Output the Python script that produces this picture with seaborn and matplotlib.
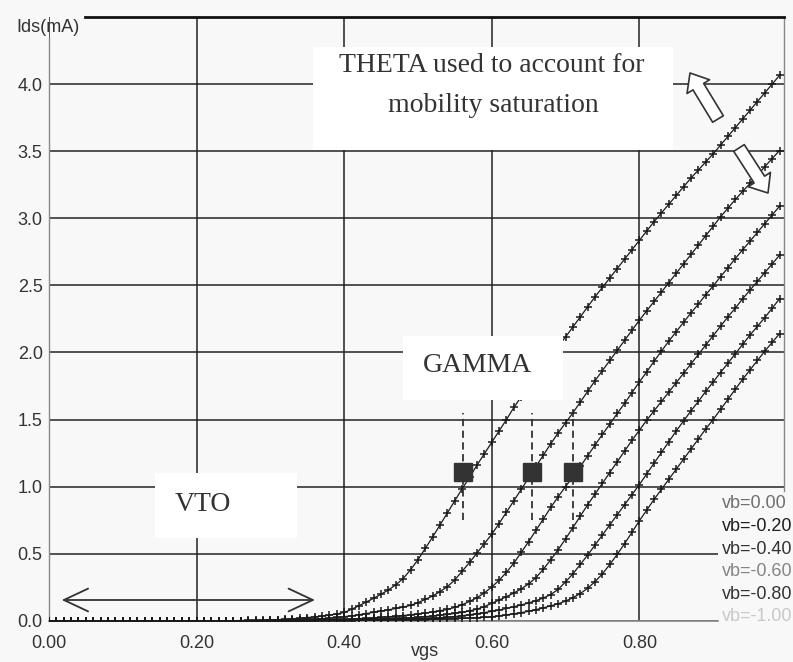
import numpy as np
import pandas as pd
import matplotlib
matplotlib.use("Agg")
import matplotlib.pyplot as plt
from matplotlib.patches import Rectangle
import seaborn as sns

# gate sweep, 10 mV steps; all curves sit at 0 below 0.24 V
vgs = np.round(np.arange(0.0, 1.0, 0.01), 2)
flat_part = [0.0] * 24

vb_labels = ["vb=0.00", "vb=-0.20", "vb=-0.40", "vb=-0.60", "vb=-0.80", "vb=-1.00"]
vb_label_colors = ["#6e6e6e", "#1e1e1e", "#333333", "#858585", "#333333", "#c8c8c8"]

# Ids (mA) from vgs = 0.24 ... 0.99
ids_vb0 = [0.000, 0.001, 0.002, 0.003, 0.004, 0.005, 0.006, 0.008, 0.011, 0.015,
           0.019, 0.024, 0.029, 0.035, 0.042, 0.051, 0.062, 0.085, 0.112, 0.140,
           0.168, 0.198, 0.230, 0.268, 0.315, 0.380, 0.455, 0.540, 0.625, 0.715,
           0.805, 0.895, 0.985, 1.070, 1.160, 1.245, 1.330, 1.415, 1.500, 1.590,
           1.670, 1.745, 1.820, 1.895, 1.970, 2.045, 2.115, 2.190, 2.265, 2.340,
           2.415, 2.485, 2.555, 2.625, 2.695, 2.765, 2.835, 2.905, 2.975, 3.040,
           3.105, 3.170, 3.235, 3.300, 3.360, 3.420, 3.480, 3.545, 3.610, 3.675,
           3.740, 3.805, 3.870, 3.935, 4.000, 4.065]
ids_vb02 = [0.000, 0.000, 0.001, 0.001, 0.002, 0.002, 0.003, 0.004, 0.005, 0.006,
            0.008, 0.010, 0.013, 0.016, 0.020, 0.025, 0.031, 0.037, 0.045, 0.054,
            0.063, 0.072, 0.082, 0.092, 0.102, 0.115, 0.135, 0.160, 0.185, 0.218,
            0.255, 0.305, 0.370, 0.435, 0.505, 0.575, 0.645, 0.725, 0.810, 0.895,
            0.980, 1.065, 1.150, 1.235, 1.320, 1.400, 1.475, 1.550, 1.630, 1.710,
            1.790, 1.865, 1.940, 2.015, 2.090, 2.165, 2.240, 2.310, 2.380, 2.450,
            2.520, 2.590, 2.660, 2.730, 2.800, 2.870, 2.940, 3.010, 3.075, 3.140,
            3.200, 3.260, 3.320, 3.385, 3.445, 3.505]
ids_vb04 = [0.000, 0.000, 0.000, 0.001, 0.001, 0.001, 0.002, 0.002, 0.003, 0.003,
            0.004, 0.005, 0.006, 0.007, 0.009, 0.010, 0.012, 0.014, 0.016, 0.019,
            0.022, 0.026, 0.030, 0.034, 0.039, 0.045, 0.051, 0.058, 0.066, 0.075,
            0.085, 0.100, 0.120, 0.145, 0.172, 0.208, 0.252, 0.302, 0.362, 0.430,
            0.510, 0.590, 0.675, 0.760, 0.845, 0.925, 1.000, 1.075, 1.150, 1.230,
            1.310, 1.390, 1.465, 1.545, 1.620, 1.700, 1.780, 1.855, 1.935, 2.010,
            2.085, 2.155, 2.225, 2.295, 2.360, 2.430, 2.495, 2.565, 2.630, 2.700,
            2.765, 2.830, 2.895, 2.960, 3.025, 3.090]
ids_vb06 = [0.000, 0.000, 0.000, 0.000, 0.001, 0.001, 0.001, 0.001, 0.002, 0.002,
            0.002, 0.003, 0.003, 0.004, 0.005, 0.005, 0.006, 0.007, 0.009, 0.010,
            0.012, 0.014, 0.016, 0.018, 0.020, 0.023, 0.027, 0.031, 0.036, 0.041,
            0.047, 0.055, 0.063, 0.074, 0.087, 0.106, 0.130, 0.155, 0.180, 0.207,
            0.238, 0.275, 0.322, 0.385, 0.455, 0.530, 0.610, 0.695, 0.780, 0.865,
            0.945, 1.025, 1.105, 1.185, 1.265, 1.345, 1.420, 1.495, 1.565, 1.635,
            1.705, 1.775, 1.845, 1.915, 1.985, 2.055, 2.125, 2.195, 2.265, 2.330,
            2.400, 2.465, 2.530, 2.595, 2.660, 2.725]
ids_vb08 = [0.000, 0.000, 0.000, 0.000, 0.000, 0.001, 0.001, 0.001, 0.001, 0.001,
            0.002, 0.002, 0.002, 0.003, 0.003, 0.003, 0.004, 0.004, 0.005, 0.006,
            0.007, 0.008, 0.009, 0.010, 0.011, 0.013, 0.015, 0.017, 0.020, 0.023,
            0.027, 0.032, 0.038, 0.045, 0.053, 0.061, 0.070, 0.080, 0.092, 0.105,
            0.118, 0.133, 0.150, 0.170, 0.196, 0.234, 0.290, 0.350, 0.420, 0.490,
            0.565, 0.640, 0.715, 0.790, 0.865, 0.940, 1.015, 1.095, 1.175, 1.255,
            1.335, 1.415, 1.490, 1.565, 1.635, 1.710, 1.780, 1.850, 1.920, 1.990,
            2.060, 2.130, 2.195, 2.260, 2.330, 2.400]
ids_vb10 = [0.000, 0.000, 0.000, 0.000, 0.000, 0.000, 0.000, 0.001, 0.001, 0.001,
            0.001, 0.001, 0.001, 0.001, 0.002, 0.002, 0.002, 0.002, 0.003, 0.003,
            0.004, 0.004, 0.005, 0.005, 0.006, 0.007, 0.008, 0.009, 0.010, 0.012,
            0.014, 0.016, 0.018, 0.020, 0.023, 0.026, 0.030, 0.037, 0.044, 0.052,
            0.061, 0.071, 0.083, 0.097, 0.111, 0.127, 0.147, 0.172, 0.203, 0.243,
            0.292, 0.350, 0.420, 0.495, 0.575, 0.660, 0.745, 0.825, 0.905, 0.980,
            1.055, 1.130, 1.205, 1.280, 1.355, 1.430, 1.500, 1.575, 1.650, 1.725,
            1.800, 1.870, 1.940, 2.010, 2.075, 2.140]

# GAMMA markers (vgs, Ids)
gamma_vgs = [0.5615, 0.654, 0.7105]
gamma_ids = [1.11, 1.11, 1.11]

x_ticks = [0.0, 0.2, 0.4, 0.6, 0.8]
x_ticklabels = ["0.00", "0.20", "0.40", "0.60", "0.80"]
y_ticks = [0.0, 0.5, 1.0, 1.5, 2.0, 2.5, 3.0, 3.5, 4.0]
y_ticklabels = ["0.0", "0.5", "1.0", "1.5", "2.0", "2.5", "3.0", "3.5", "4.0"]

curves = [ids_vb0, ids_vb02, ids_vb04, ids_vb06, ids_vb08, ids_vb10]
frames = []
for lab, ids in zip(vb_labels, curves):
    frames.append(pd.DataFrame({"vgs": vgs, "ids": flat_part + ids, "vb": lab}))
df = pd.concat(frames, ignore_index=True)

W, H = 793, 662
BG = "#f8f8f8"
INK = "#333333"
SANS = ["Liberation Sans", "DejaVu Sans"]
SERIF = ["Liberation Serif", "DejaVu Serif"]


def fx(px):
    return px / W


def fy(py):
    return 1 - py / H


fig = plt.figure(figsize=(W / 100, H / 100), dpi=100, facecolor=BG)
ax = fig.add_axes([fx(48.9), fy(620.8), 735.1 / W, (620.8 - 17) / H])
ax.set_facecolor(BG)

sns.lineplot(data=df, x="vgs", y="ids", hue="vb", palette=["#1a1a1a"] * 6,
             marker="+", markersize=5.5, markeredgewidth=1.1,
             markeredgecolor="#1a1a1a", linewidth=0.9, estimator=None,
             sort=False, legend=False, ax=ax, zorder=3)

ax.set_xlim(0, 0.996)
ax.set_ylim(0, 4.5)
ax.set_xticks(x_ticks)
ax.set_xticklabels(x_ticklabels)
ax.set_yticks(y_ticks)
ax.set_yticklabels(y_ticklabels)
ax.tick_params(length=0, labelsize=13, labelcolor=INK)
ax.tick_params(axis="x", pad=10)
ax.tick_params(axis="y", pad=4.5)
for lab in ax.get_xticklabels() + ax.get_yticklabels():
    lab.set_fontfamily(SANS)
ax.grid(True, color="#222222", linewidth=1.1)
ax.set_axisbelow(True)
ax.set_ylabel("")
ax.set_xlabel("vgs", fontsize=13, color=INK, family=SANS, va="center")
ax.xaxis.set_label_coords((425 - 48.9) / 735.1, -(652 - 620.8) / 603.8)

ax.spines["top"].set_color("#111111")
ax.spines["top"].set_linewidth(2)
ax.spines["top"].set_bounds(0.049, 0.996)
ax.spines["left"].set_color("#888888")
ax.spines["left"].set_linewidth(1)
ax.spines["left"].set_bounds(0, 4.34)
ax.spines["right"].set_color("#888888")
ax.spines["right"].set_linewidth(1)
ax.spines["right"].set_bounds(0.97, 4.5)
ax.spines["bottom"].set_color("#888888")
ax.spines["bottom"].set_linewidth(1.2)
ax.spines["bottom"].set_bounds(0, 0.907)

# legend panel hides the grid in the lower right corner
ax.add_patch(Rectangle((0.907, -0.3), 0.3, 1.27, facecolor=BG, edgecolor="none",
                       zorder=1.8, clip_on=False))
for i, (lab, col) in enumerate(zip(vb_labels, vb_label_colors)):
    fig.text(fx(721.7), fy(508.3 + i * 22.6), lab, fontsize=13, color=col,
             family=SANS, va="baseline", ha="left")

fig.text(fx(16.7), fy(32.5), "Ids(mA)", fontsize=13, color=INK, family=SANS,
         va="baseline", ha="left")

# GAMMA markers and dashed guides
for gx, gy in zip(gamma_vgs, gamma_ids):
    ax.plot([gx, gx], [0.75, 1.55], color=INK, linewidth=1.3,
            linestyle=(0, (4, 2.5)), zorder=3.5)
ax.plot(gamma_vgs, gamma_ids, linestyle="none", marker="s", markersize=13,
        color=INK, zorder=4)

# white text boxes
boxes = [(313, 47, 673, 150), (403, 336, 563, 400), (155, 473, 297, 538)]
for x0, y0, x1, y1 in boxes:
    ax.add_patch(Rectangle((fx(x0), fy(y1)), (x1 - x0) / W, (y1 - y0) / H,
                           transform=fig.transFigure, facecolor="white",
                           edgecolor="none", zorder=5, clip_on=False))

fig.text(fx(492), fy(71.7), "THETA used to account for", fontsize=20, color=INK,
         family=SERIF, ha="center", va="baseline", zorder=6)
fig.text(fx(493.5), fy(111.7), "mobility saturation", fontsize=20, color=INK,
         family=SERIF, ha="center", va="baseline", zorder=6)
fig.text(fx(478), fy(371.7), "GAMMA", fontsize=20, color=INK, family=SERIF,
         ha="center", va="baseline", zorder=6)
fig.text(fx(175), fy(511), "VTO", fontsize=20, color=INK, family=SERIF,
         ha="left", va="baseline", zorder=6)

# VTO double arrow
ax.annotate("", xy=(61.7, H - 600), xytext=(315, H - 600),
            xycoords="figure pixels", textcoords="figure pixels",
            arrowprops=dict(arrowstyle="<->,head_length=1.75,head_width=0.82",
                            color=INK, linewidth=1.3, shrinkA=0, shrinkB=0,
                            mutation_scale=10))

# hollow arrows for THETA
for tail, tip in [((718.0, 119.0), (690.0, 73.0)), ((739.0, 148.0), (768.0, 193.0))]:
    ax.annotate("", xy=(tip[0], H - tip[1]), xytext=(tail[0], H - tail[1]),
                xycoords="figure pixels", textcoords="figure pixels",
                arrowprops=dict(arrowstyle="simple,head_length=1.15,head_width=1.9,tail_width=0.9",
                                facecolor="white", edgecolor=INK, linewidth=1.2,
                                shrinkA=0, shrinkB=0, mutation_scale=10),
                zorder=6)

fig.savefig("out.png", dpi=100, facecolor=BG)
